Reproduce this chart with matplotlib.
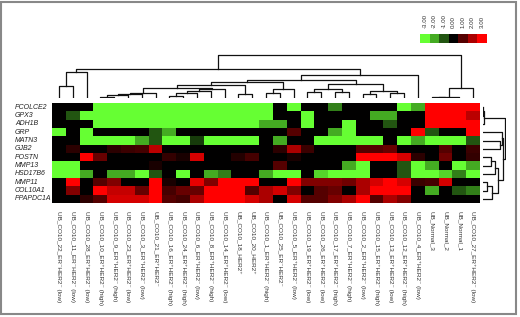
import numpy as np
import matplotlib.pyplot as plt
from matplotlib.colors import LinearSegmentedColormap
from matplotlib.patches import Rectangle

plt.rcParams['font.family'] = ['Liberation Sans', 'DejaVu Sans']

# genes (rows) and samples (columns), in clustered order
genes = ['PCOLCE2', 'GPX3', 'ADH1B', 'GRP', 'MATN3', 'GJB2', 'POSTN', 'MMP13',
         'HSD17B6', 'MMP11', 'COL10A1', 'PPAPDC1A']

samples = [
    'UB_CO10_22_ER⁻HER2⁻ (low)', 'UB_CO10_11_ER⁻HER2⁻ (low)', 'UB_CO10_28_ER⁺HER2⁻ (low)',
    'UB_CO10_10_ER⁺HER2⁻ (high)', 'UB_CO10_9_ER⁺HER2⁻ (high)', 'UB_CO10_23_ER⁺HER2⁻ (low)',
    'UB_CO10_3_ER⁺HER2⁻ (low)', 'UB_CO10_21_ER⁺HER2⁻', 'UB_CO10_16_ER⁺HER2⁻ (high)',
    'UB_CO10_24_ER⁺HER2⁻ (high)', 'UB_CO10_6_ER⁺HER2⁻ (low)', 'UB_CO10_8_ER⁺HER2⁻ (high)',
    'UB_CO10_14_ER⁺HER2⁻ (low)', 'UB_CO10_18_HER2⁺', 'UB_CO10_20_HER2⁺',
    'UB_CO10_1_ER⁺HER2⁻ (high)', 'UB_CO10_25_ER⁻HER2⁻', 'UB_CO10_5_ER⁺HER2⁻ (low)',
    'UB_CO10_19_ER⁺HER2⁻ (low)', 'UB_CO10_26_ER⁺HER2⁻ (low)', 'UB_CO10_17_ER⁺HER2⁻ (high)',
    'UB_CO10_7_ER⁺HER2⁻ (high)', 'UB_CO10_2_ER⁺HER2⁻ (low)', 'UB_CO10_15_ER⁺HER2⁻ (high)',
    'UB_CO10_13_ER⁺HER2⁻ (low)', 'UB_CO10_12_ER⁺HER2⁻ (high)', 'UB_CO10_4_ER⁺HER2⁻ (low)',
    'UB_Normal_3', 'UB_Normal_2', 'UB_Normal_1', 'UB_CO10_27_ER⁺HER2⁻ (low)',
]

# log2 expression, clipped to [-3, 3]
pcolce2  = [0, 0, 0, -3, -3, -3, -3, -3, -3, -3, -3, -3, -3, -3, -3, -3, 0, -3, 0, 0, -1.5, 0, 0, 0, 0, -3, -2, 3, 3, 3, 3]
gpx3     = [0, -1, -3, -3, -3, -3, -3, -3, -3, -3, -3, -3, -3, -3, -3, -3, 0, 0, -3, 0, 0, 0, 0, -2, -2, 0, 0, 3, 3, 3, 2.2]
adh1b    = [0, 0, 0, -3, -3, -3, -3, -3, -3, -3, -3, -3, -3, -3, -3, -2, -2, 0, -3, 0, 0, -3, 0, 0, -1, 0, 0, 3, 3, 3, 3]
grp      = [-3, 0, -3, 0, 0, 0, 0, -1, -2, 0, 0, 0, 0, 0, 0, 0, 0, 1, 0, 0, -2, -3, 0, 0, 0, 0, 3, -1, 0, 0, 3]
matn3    = [0, 0, -3, -3, -3, -3, -2, -1, -3, -3, -0.7, -3, -3, -3, -3, 0, -2, 0, 0, -3, -3, -3, -3, -3, 0, -3, -2, -3, -3, -3, -1]
gjb2     = [0, 0.5, 0, 0, 0.5, 0.7, 0.8, 2.2, 0, 0, 0, 0, 0, 0, 0, 0, 0.5, 2, 0.7, 0, 0, 0, 1, 1, 1.2, 0, 0, 0, 1, 0, 0.7]
postn    = [0, 0, 3, 1.2, 0, 0, 0, 0, 0.6, 0.3, 2.5, 0, 0, 0.4, 0.8, 0, 0, 0.3, 0, 0, 0, 0, 3, 3, 3, 2.5, 0.5, 0, 1.3, 0, 0.6]
mmp13    = [-3, -3, 0, 0, 0, 0, 0, 0.3, 0, 0, 0, 0, 0, 0, 0, 0, 1, 0, 0, 0, 0, -2, -3, 0, 0, -1, -3, -2, 0, -3, -2]
hsd17b6  = [-3, -3, -2, 0, -2, -2, -3, -1, 0, -3, 0, -2, -1.5, 0, 0, -2, -3, -3, 0, -2.5, -3, -3, -3, 0, 0, -1, -3, -3, -2.5, -1.5, -3]
mmp11    = [0, 3, 0, 1, 1.5, 0, 0, 3, 0.3, 0, 2.7, 1.5, 3, 3, 3, 0, 0, 3, 1.5, 1.5, 1.5, 1.3, 2, 2.5, 3, 2.5, 0.7, 0.8, 2.5, 0, 0]
col10a1  = [0, 1.5, 0, 3, 2.3, 2.3, 1.2, 3, 0.8, 1.2, 1.2, 3, 3, 3, 1, 2, 2.5, 1.5, 0, 1, 1.2, 0, 2, 3, 3, 3, 0, -2, 0, -1, -1.5]
ppapdc1a = [0, 0, 0.5, 1, 2.5, 2.5, 2.5, 3, 1, 0.8, 2, 3, 3, 3, 2.5, 2, 0, 2.5, 1, 1, 1.5, 2, 3, 1, 2, 1.5, 0, 0, 0, 0, 0]

# sample dendrogram: (left, right, height); ids >= 31 are earlier merges
col_merges = [
    (0, 1, 0.28), (31, 2, 0.60),
    (3, 4, 0.02), (33, 5, 0.07), (34, 6, 0.09), (35, 7, 0.11),
    (8, 9, 0.05), (37, 10, 0.12), (38, 11, 0.16), (39, 12, 0.21),
    (36, 40, 0.24), (13, 14, 0.10), (41, 42, 0.30),
    (15, 16, 0.12), (44, 17, 0.20), (43, 45, 0.38),
    (18, 19, 0.15), (20, 21, 0.13), (47, 48, 0.20),
    (22, 23, 0.10), (24, 25, 0.12), (50, 51, 0.16), (49, 52, 0.33),
    (46, 53, 0.42), (54, 26, 0.53), (32, 55, 0.67),
    (27, 28, 0.015), (57, 29, 0.03), (58, 30, 0.24), (56, 59, 1.0),
]

# gene dendrogram: ids >= 12 are earlier merges
row_merges = [
    (0, 1, 0.02), (12, 2, 0.04), (4, 5, 0.75), (3, 14, 0.85), (6, 7, 0.35),
    (16, 8, 0.55), (9, 10, 0.17), (18, 11, 0.40), (17, 19, 0.65), (15, 20, 0.88),
    (13, 21, 1.0),
]

legend_vals = [-3, -2, -1, 0, 1, 2, 3]

data = np.array([pcolce2, gpx3, adh1b, grp, matn3, gjb2, postn, mmp13,
                 hsd17b6, mmp11, col10a1, ppapdc1a])

cmap = LinearSegmentedColormap.from_list('gr', ['#66ff33', '#000000', '#ff0000'])

W, H = 520, 317
fig = plt.figure(figsize=(W / 100, H / 100), dpi=100)


def px_axes(x0, y0, x1, y1):
    # axes from pixel box (top-left origin)
    return fig.add_axes([x0 / W, 1 - y1 / H, (x1 - x0) / W, (y1 - y0) / H])


def draw_dendro(ax, merges, n, vertical=True):
    pos = {i: (float(i), 0.0) for i in range(n)}
    for k, (a, b, h) in enumerate(merges):
        xa, ha = pos[a]
        xb, hb = pos[b]
        if vertical:
            ax.plot([xa, xa, xb, xb], [ha, h, h, hb], color='#111111', lw=0.9)
        else:
            ax.plot([ha, h, h, hb], [xa, xa, xb, xb], color='#111111', lw=0.9)
        pos[n + k] = ((xa + xb) / 2, h)


# heatmap
ax = px_axes(52, 103, 480, 203)
ax.imshow(data, cmap=cmap, vmin=-3, vmax=3, aspect='auto', interpolation='nearest')
ax.set_yticks([])
for i, g in enumerate(genes):
    ax.text(-37 / 13.8 - 0.5, i, g, fontsize=5, style='italic', ha='left', va='center',
            color='#222222')
ax.set_xticks(range(len(samples)))
ax.set_xticklabels(samples, rotation=270, fontsize=4.6, color='#333333')
ax.tick_params(length=0, pad=6)
for s in ax.spines.values():
    s.set_visible(False)

# sample dendrogram
axd = px_axes(52, 54, 480, 98)
draw_dendro(axd, col_merges, len(samples), vertical=True)
axd.set_xlim(-0.5, len(samples) - 0.5)
axd.set_ylim(0, 1.02)
axd.axis('off')

# gene dendrogram
axr = px_axes(483, 103, 506, 203)
draw_dendro(axr, row_merges, len(genes), vertical=False)
axr.set_ylim(len(genes) - 0.5, -0.5)
axr.set_xlim(0, 1.03)
axr.axis('off')

# colour legend
axl = px_axes(420, 34, 487, 43)
axl.imshow([legend_vals], cmap=cmap, vmin=-3, vmax=3, aspect='auto', interpolation='nearest')
axl.axis('off')
for i, v in enumerate(legend_vals):
    axl.text(i, -1.2, f'{v:.2f}', rotation=90, ha='center', va='bottom', fontsize=4.4,
             color='#333333')

# grey frame around the whole picture
fig.add_artist(Rectangle((1 / W, 3 / H), 515 / W, 312 / H, transform=fig.transFigure,
                         fill=False, edgecolor='#888888', lw=1.5))

fig.savefig('out.png', dpi=100)
